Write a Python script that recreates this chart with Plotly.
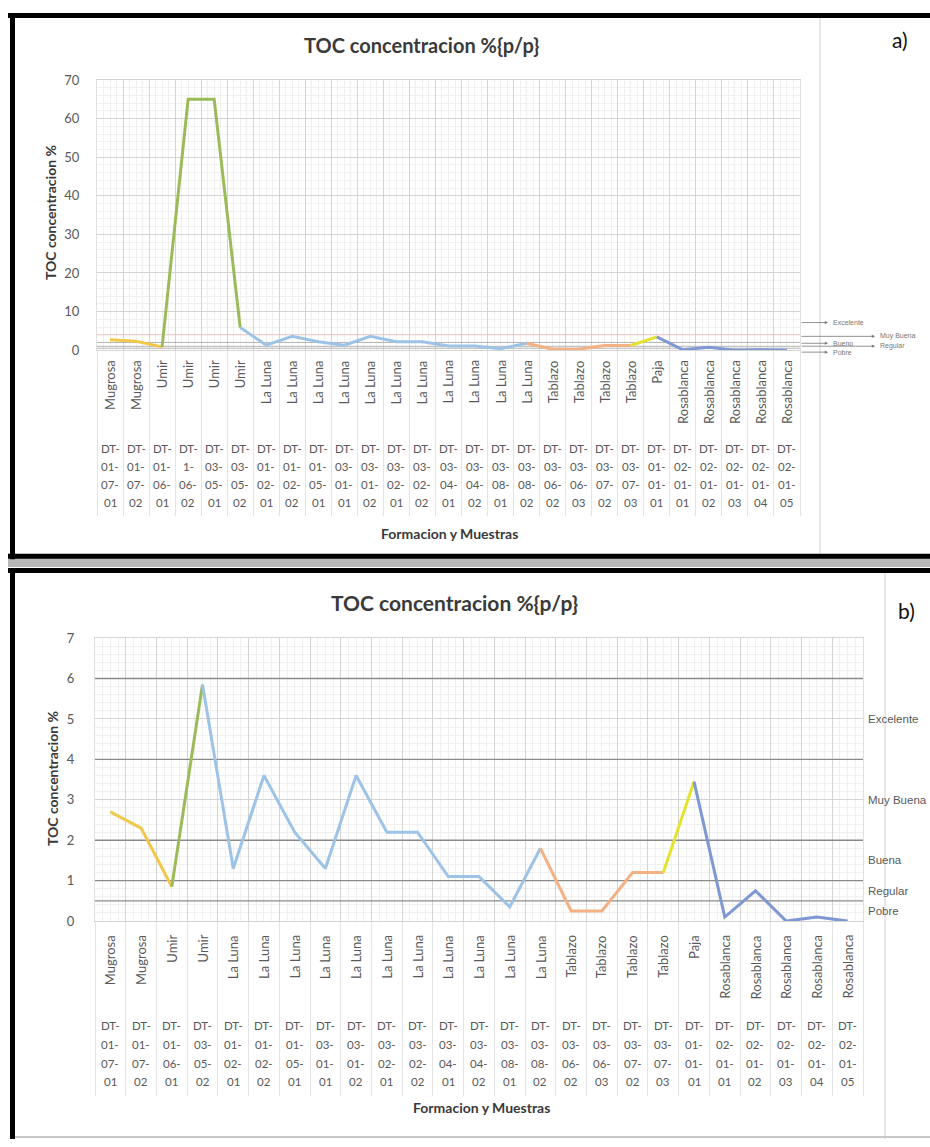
import plotly.graph_objects as go

W, H = 930, 1147

# ---------------- data ----------------
formaciones_a = ["Mugrosa", "Mugrosa", "Umir", "Umir", "Umir", "Umir",
                 "La Luna", "La Luna", "La Luna", "La Luna", "La Luna", "La Luna",
                 "La Luna", "La Luna", "La Luna", "La Luna", "La Luna",
                 "Tablazo", "Tablazo", "Tablazo", "Tablazo", "Paja",
                 "Rosablanca", "Rosablanca", "Rosablanca", "Rosablanca", "Rosablanca"]
muestras_a = ["DT-01-07-01", "DT-01-07-02", "DT-01-06-01", "DT-1-06-02", "DT-03-05-01",
              "DT-03-05-02", "DT-01-02-01", "DT-01-02-02", "DT-01-05-01", "DT-03-01-01",
              "DT-03-01-02", "DT-03-02-01", "DT-03-02-02", "DT-03-04-01", "DT-03-04-02",
              "DT-03-08-01", "DT-03-08-02", "DT-03-06-02", "DT-03-06-03", "DT-03-07-02",
              "DT-03-07-03", "DT-01-01-01", "DT-02-01-01", "DT-02-01-02", "DT-02-01-03",
              "DT-02-01-04", "DT-02-01-05"]
toc_a = [2.7, 2.3, 0.85, 65.0, 65.0, 5.85, 1.3, 3.6, 2.2, 1.3, 3.6, 2.2, 2.2, 1.1,
         1.1, 0.35, 1.8, 0.25, 0.25, 1.2, 1.2, 3.45, 0.1, 0.75, 0.0, 0.1, 0.0]

formaciones_b = ["Mugrosa", "Mugrosa", "Umir", "Umir",
                 "La Luna", "La Luna", "La Luna", "La Luna", "La Luna", "La Luna",
                 "La Luna", "La Luna", "La Luna", "La Luna", "La Luna",
                 "Tablazo", "Tablazo", "Tablazo", "Tablazo", "Paja",
                 "Rosablanca", "Rosablanca", "Rosablanca", "Rosablanca", "Rosablanca"]
muestras_b = ["DT-01-07-01", "DT-01-07-02", "DT-01-06-01", "DT-03-05-02", "DT-01-02-01",
              "DT-01-02-02", "DT-01-05-01", "DT-03-01-01", "DT-03-01-02", "DT-03-02-01",
              "DT-03-02-02", "DT-03-04-01", "DT-03-04-02", "DT-03-08-01", "DT-03-08-02",
              "DT-03-06-02", "DT-03-06-03", "DT-03-07-02", "DT-03-07-03", "DT-01-01-01",
              "DT-02-01-01", "DT-02-01-02", "DT-02-01-03", "DT-02-01-04", "DT-02-01-05"]
toc_b = [2.7, 2.3, 0.85, 5.85, 1.3, 3.6, 2.2, 1.3, 3.6, 2.2, 2.2, 1.1, 1.1, 0.35,
         1.8, 0.25, 0.25, 1.2, 1.2, 3.45, 0.1, 0.75, 0.0, 0.1, 0.0]

umbrales = [0.5, 1, 2, 4, 6]
umbrales_a = [0.5, 1, 2, 4]
clases_b = ["Pobre", "Regular", "Buena", "Muy Buena", "Excelente"]
clases_a = ["Excelente", "Muy Buena", "Bueno", "Regular", "Pobre"]
ticks_a = [0, 10, 20, 30, 40, 50, 60, 70]
ticks_b = [0, 1, 2, 3, 4, 5, 6, 7]
titulo = "TOC concentracion %{p/p}"
titulo_y = "TOC concentracion %"
titulo_x = "Formacion y Muestras"

# ---------------- styles ----------------
COL = {"Mugrosa": "#F2C84B", "Umir": "#9BBB59", "La Luna": "#9DC3E6",
       "Tablazo": "#F4B183", "Paja": "#E4E42C", "Rosablanca": "#7F98D4"}
COL_UMBRAL_A = {0.5: "#b4b4b4", 1: "#b4b4b4", 2: "#b4b4b4", 4: "#efc4c4"}
FONT = "Lato, Carlito, 'Open Sans', sans-serif"
GRAY_TXT = "#595959"
DARK_TXT = "#3a3a3a"


def px(x):
    return x / W


def py(y):
    return 1 - y / H


fig = go.Figure()


# threshold lines (drawn first so that the data lines sit on top)
def agregar_umbrales(xref, yref, n, valores, colores, width):
    for u in valores:
        fig.add_trace(go.Scatter(x=[-0.5, n - 0.5], y=[u, u], mode="lines",
                                 line=dict(color=colores(u), width=width),
                                 xaxis=xref, yaxis=yref, showlegend=False, hoverinfo="skip"))


agregar_umbrales("x", "y", len(toc_a), umbrales_a, lambda u: COL_UMBRAL_A[u], 1)
agregar_umbrales("x2", "y2", len(toc_b), umbrales, lambda u: "#8a8a8a", 1.3)


def agregar_serie(xref, yref, form, muestras, vals):
    colores = [COL[f] for f in form]
    colores[muestras.index("DT-01-06-01")] = COL["Mugrosa"]
    n = len(vals)
    s = 0
    for i in range(1, n):
        if i == n - 1 or colores[i + 1] != colores[i]:
            fig.add_trace(go.Scatter(
                x=list(range(s, i + 1)), y=vals[s:i + 1], mode="lines",
                line=dict(color=colores[i], width=3),
                xaxis=xref, yaxis=yref, showlegend=False, hoverinfo="skip"))
            s = i


agregar_serie("x", "y", formaciones_a, muestras_a, toc_a)
agregar_serie("x2", "y2", formaciones_b, muestras_b, toc_b)


def eje_x(dom, n, ticklen, anchor):
    return dict(domain=[px(dom[0]), px(dom[1])], range=[-0.5, n - 0.5], anchor=anchor,
                tickmode="array", tickvals=[i - 0.5 for i in range(n + 1)],
                ticktext=[""] * (n + 1), showgrid=True, gridcolor="#d4d4d4", gridwidth=1,
                ticks="outside", ticklen=ticklen, tickcolor="#e4e4e4", tickwidth=1,
                minor=dict(tickmode="array",
                           tickvals=[i - 0.5 + j * 0.25 for i in range(n) for j in (1, 2, 3)],
                           showgrid=True, gridcolor="#f0f0f0", ticks=""),
                zeroline=False, showline=True, linecolor="#d4d4d4", mirror=True)


def eje_y(dom, rng, tv, minor_dt, standoff, anchor):
    return dict(domain=[py(dom[1]), py(dom[0])], range=rng, anchor=anchor,
                tickmode="array", tickvals=tv, showgrid=True, gridcolor="#d4d4d4",
                minor=dict(dtick=minor_dt, showgrid=True, gridcolor="#f0f0f0", ticks=""),
                ticks="", ticklabelstandoff=standoff,
                tickfont=dict(family=FONT, size=13, color=GRAY_TXT),
                zeroline=False, showline=True, linecolor="#e0e0e0", mirror=True)


fig.update_layout(
    width=W, height=H, margin=dict(l=0, r=0, t=0, b=0),
    paper_bgcolor="white", plot_bgcolor="white", showlegend=False,
    xaxis=eje_x((97, 800), len(toc_a), 165, "y"),
    yaxis=eje_y((73, 347), [0, 70], ticks_a, 2, 14, "x"),
    xaxis2=eje_x((95, 863), len(toc_b), 174, "y2"),
    yaxis2=eje_y((639, 926), [0, 7], ticks_b, 0.2, 17, "x2"),
)

ann = []


def etiquetas_categorias(xref, form, muestras, y_form, filas_y):
    for i, (f, m) in enumerate(zip(form, muestras)):
        ann.append(dict(xref=xref, yref="paper", x=i, y=py(y_form), text=f,
                        textangle=-90, xanchor="center", yanchor="top", showarrow=False,
                        font=dict(family=FONT, size=13, color=GRAY_TXT)))
        partes = m.split("-")
        filas = [p + "-" for p in partes[:-1]] + [partes[-1]]
        for t, yy in zip(filas, filas_y):
            ann.append(dict(xref=xref, yref="paper", x=i, y=py(yy), text=t,
                            xanchor="center", yanchor="middle", showarrow=False,
                            font=dict(family=FONT, size=11.5, color=GRAY_TXT)))


etiquetas_categorias("x", formaciones_a, muestras_a, 355, [447, 465, 483, 502])
etiquetas_categorias("x2", formaciones_b, muestras_b, 938, [1032, 1051, 1070, 1089])

# titles
for (tx, ty, size) in [(421, 38, 20), (454, 603, 21)]:
    ann.append(dict(xref="paper", yref="paper", x=px(tx), y=py(ty), text="<b>" + titulo + "</b>",
                    showarrow=False, xanchor="center", yanchor="middle",
                    font=dict(family=FONT, size=size, color=DARK_TXT)))
for (tx, ty) in [(449, 533), (481, 1115)]:
    ann.append(dict(xref="paper", yref="paper", x=px(tx), y=py(ty), text="<b>" + titulo_x + "</b>",
                    showarrow=False, xanchor="center", yanchor="middle",
                    font=dict(family=FONT, size=14, color=DARK_TXT)))
for (tx, ty) in [(50, 208), (52, 782)]:
    ann.append(dict(xref="paper", yref="paper", x=px(tx), y=py(ty), text="<b>" + titulo_y + "</b>",
                    textangle=-90, showarrow=False, xanchor="center", yanchor="middle",
                    font=dict(family=FONT, size=14, color=DARK_TXT)))

# panel letters
for (tx, ty, t) in [(900, 32, "a)"), (906, 611, "b)")]:
    ann.append(dict(xref="paper", yref="paper", x=px(tx), y=py(ty), text=t, showarrow=False,
                    xanchor="center", yanchor="middle",
                    font=dict(family=FONT, size=21, color="#111111")))

# class labels panel b (centered in each band)
limites = [0] + umbrales
for k, c in enumerate(clases_b):
    ann.append(dict(xref="paper", yref="y2", x=px(866), y=(limites[k] + limites[k + 1]) / 2,
                    text=c, showarrow=False, xanchor="left", yanchor="middle",
                    font=dict(family="Liberation Sans, Arial, sans-serif", size=11.5, color=GRAY_TXT)))

# class labels panel a (small, with leader arrows)
pos_a = [(319, 828), (333, 875), (340, 828), (343, 875), (349, 828)]
for c, (yy, xh) in zip(clases_a, pos_a):
    ann.append(dict(xref="paper", yref="paper", x=px(xh), y=py(yy), ax=-(xh - 800), ay=0,
                    text="", showarrow=True, arrowhead=2,
                    arrowsize=0.8, arrowwidth=0.8, arrowcolor="#777777"))
    ann.append(dict(xref="paper", yref="paper", x=px(xh + 3), y=py(yy), text=c, showarrow=False,
                    xanchor="left", yanchor="middle",
                    font=dict(family="Liberation Sans, Arial, sans-serif", size=7, color="#777777")))

fig.update_layout(annotations=ann)

# frames
frame = [
    dict(x0=px(820), x1=px(820), y0=py(10), y1=py(554), color="#d0d0d0", w=1),
    dict(x0=px(885), x1=px(885), y0=py(573), y1=py(1147), color="#d0d0d0", w=1),
    dict(x0=px(12), x1=px(930), y0=py(1145), y1=py(1145), color="#c8c8c8", w=2),
]
for f in frame:
    fig.add_shape(type="line", xref="paper", yref="paper", x0=f["x0"], x1=f["x1"],
                  y0=f["y0"], y1=f["y1"], line=dict(color=f["color"], width=f["w"]))
fig.add_shape(type="rect", xref="paper", yref="paper", x0=px(8), x1=px(930), y0=py(567), y1=py(558),
              fillcolor="#b8b8b8", line=dict(width=0))
black = [
    (8, 7.5, 930, 7.5), (12.5, 5, 12.5, 559), (8, 556, 930, 556),
    (8, 570.5, 930, 570.5), (12.5, 568, 12.5, 1147),
]
for (x0, y0, x1, y1) in black:
    fig.add_shape(type="line", xref="paper", yref="paper", x0=px(x0), x1=px(x1),
                  y0=py(y0), y1=py(y1), line=dict(color="black", width=5))

fig.write_html("out.html")
